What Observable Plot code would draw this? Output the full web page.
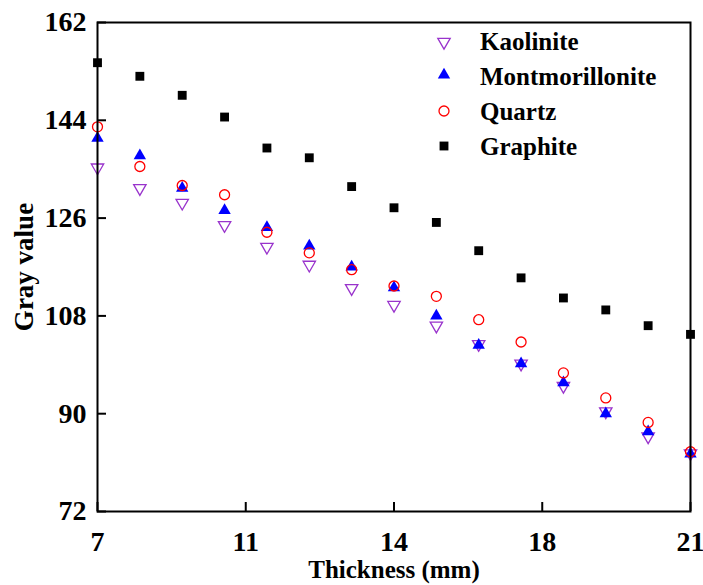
<!DOCTYPE html>
<html><head><meta charset="utf-8">
<script src="https://cdn.jsdelivr.net/npm/d3@7"></script>
<script src="https://cdn.jsdelivr.net/npm/@observablehq/plot@0.6"></script>
<style>
html,body{margin:0;padding:0;background:#fff;}
#wrap{width:703px;height:585px;}
</style></head><body><div id="wrap"></div>
<script>
const thickness = [7, 8, 9, 10, 11, 12, 13, 14, 15, 16, 17, 18, 19, 20, 21];
const kaolinite = [135.3, 131.5, 128.8, 124.7, 120.7, 117.4, 113.1, 110.0, 106.2, 102.8, 99.2, 95.1, 90.4, 85.8, 82.7];
const montmorillonite = [140.7, 137.5, 131.5, 127.4, 124.3, 120.9, 117.0, 113.2, 108.0, 102.6, 99.2, 95.7, 90.0, 86.7, 82.6];
const quartz = [142.8, 135.5, 132.0, 130.3, 123.4, 119.6, 116.5, 113.5, 111.6, 107.3, 103.2, 97.5, 92.9, 88.4, 83.0];
const graphite = [154.6, 152.1, 148.6, 144.6, 138.9, 137.1, 131.8, 127.9, 125.2, 120.0, 115.0, 111.3, 109.1, 106.2, 104.6];
const xTicks = [7, 10.5, 14, 17.5, 21];
const yTicks = [72, 90, 108, 126, 144, 162];
const seriesNames = ["Kaolinite", "Montmorillonite", "Quartz", "Graphite"];
const xLabel = "Thickness (mm)";
const yLabel = "Gray value";

const FONT = "'Liberation Serif', 'Times New Roman', serif";
const purple = "#9933cc", blue = "#0000ff", red = "#ff0000", black = "#000000";

const rows = (vals) => thickness.map((t, i) => ({t, v: vals[i]}));

const W = 703, H = 585, ML = 97, MR = 13, MT = 22, MB = 74;
const frameW = W - ML - MR, frameH = H - MT - MB, TICK = 9;

const plot = Plot.plot({
  width: W, height: H,
  marginLeft: ML, marginRight: MR, marginTop: MT, marginBottom: MB,
  x: {domain: [7, 21]},
  y: {domain: [72, 162]},
  style: {fontFamily: FONT, fontWeight: "bold", fontSize: "28px", color: "black", background: "white", overflow: "visible"},
  marks: [
    Plot.axisX({ticks: xTicks, tickSize: 0, tickPadding: 20, tickFormat: d => String(Math.round(d)), label: null, fontSize: 28}),
    Plot.axisY({ticks: yTicks, tickSize: 0, tickPadding: 11, label: null, fontSize: 28}),
    Plot.tickX(xTicks, {x: d => d, insetTop: frameH - TICK, stroke: "black", strokeWidth: 2}),
    Plot.tickY(yTicks, {y: d => d, insetRight: frameW - TICK, stroke: "black", strokeWidth: 2}),
    Plot.text([xLabel], {frameAnchor: "bottom", lineAnchor: "middle", textAnchor: "middle", dy: 58, fontSize: 25, fontWeight: "bold", fontFamily: FONT, fill: "black"}),
    Plot.text([yLabel], {frameAnchor: "left", lineAnchor: "middle", textAnchor: "middle", dx: -73, rotate: -90, fontSize: 27, fontWeight: "bold", fontFamily: FONT, fill: "black"}),
    Plot.dot(rows(kaolinite), {x: "t", y: "v", symbol: "triangle", rotate: 180, r: 4.6, stroke: purple, fill: "none", strokeWidth: 1.3}),
    Plot.dot(rows(montmorillonite), {x: "t", y: "v", symbol: "triangle", r: 4.6, fill: blue, stroke: "none"}),
    Plot.dot(rows(quartz), {x: "t", y: "v", symbol: "circle", r: 5, stroke: red, fill: "none", strokeWidth: 1.3}),
    Plot.dot(rows(graphite), {x: "t", y: "v", symbol: "square", r: 5, fill: black, stroke: "none"}),
    Plot.frame({stroke: "black", strokeWidth: 2})
  ]
});

document.getElementById("wrap").appendChild(plot);

// Legend inside plot (top right)
const svg = d3.select(plot.tagName.toLowerCase() === "svg" ? plot : plot.querySelector("svg"));
const legendStyles = [
  {sym: d3.symbolTriangle, r: 4.6, rot: 180, fill: "none", stroke: purple},
  {sym: d3.symbolTriangle, r: 4.6, rot: 0, fill: blue, stroke: "none"},
  {sym: d3.symbolCircle, r: 5, rot: 0, fill: "none", stroke: red},
  {sym: d3.symbolSquare, r: 5, rot: 0, fill: black, stroke: "none"}
];
const symY = [42, 75, 111, 146];
const textY = [50, 85, 120, 155];
const lg = svg.append("g").attr("text-anchor", "start");
seriesNames.forEach((name, i) => {
  const s = legendStyles[i];
  lg.append("path")
    .attr("d", d3.symbol(s.sym, s.r * s.r * Math.PI)())
    .attr("transform", `translate(444,${symY[i]}) rotate(${s.rot})`)
    .attr("fill", s.fill).attr("stroke", s.stroke).attr("stroke-width", 1.3);
  lg.append("text")
    .attr("x", 480).attr("y", textY[i])
    .attr("text-anchor", "start")
    .attr("font-family", FONT).attr("font-weight", "bold").attr("font-size", 25)
    .attr("fill", "black")
    .text(name);
});
</script>
</body></html>
